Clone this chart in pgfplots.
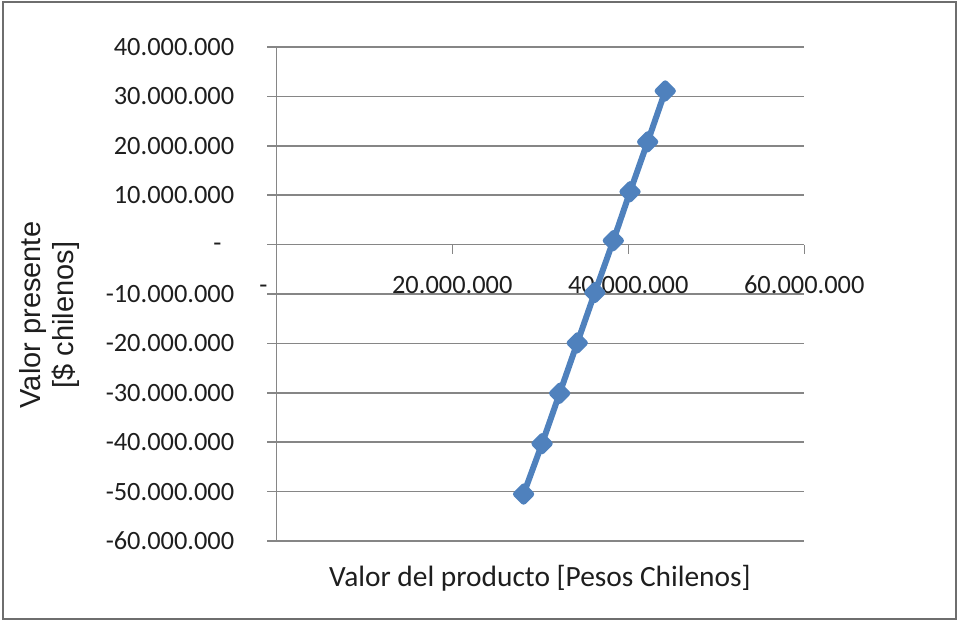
\documentclass[border=0pt]{standalone}
\usepackage{fontspec}
\setmainfont{Carlito}
\newfontfamily\arialfont{Liberation Sans}
\usepackage{pgfplots}
\pgfplotsset{compat=1.18}
\definecolor{xlblue}{RGB}{79,129,189}
\definecolor{gridgray}{RGB}{134,134,134}
\definecolor{framegray}{RGB}{110,110,110}
\definecolor{txt}{RGB}{30,30,30}

\begin{document}
\begin{tikzpicture}
\useasboundingbox (0,0) rectangle (479pt,310.5pt);
\draw[framegray, line width=1pt] (1.25pt,1.25pt) rectangle (477.75pt,309.25pt);
\begin{axis}[
  at={(138.15pt,40pt)}, anchor=south west,
  scale only axis, width=264pt, height=247pt,
  xmin=0, xmax=60000000, ymin=-60000000, ymax=40000000,
  axis x line=middle, axis y line=middle,
  axis line style={-, draw=gridgray, line width=0.75pt},
  hide obscured x ticks=false, hide obscured y ticks=false,
  ymajorgrids, grid style={gridgray, line width=0.75pt},
  xtick={0,20000000,40000000,60000000},
  xticklabels={{-\kern13pt},20.000.000,40.000.000,60.000.000},
  ytick={-60000000,-50000000,-40000000,-30000000,-20000000,-10000000,0,10000000,20000000,30000000,40000000},
  yticklabels={-60.000.000,-50.000.000,-40.000.000,-30.000.000,-20.000.000,-10.000.000,{},10.000.000,20.000.000,30.000.000,40.000.000},
  scaled ticks=false,
  tick align=outside, major tick length=4.5pt,
  tick style={gridgray, line width=0.75pt},
  ticklabel style={font=\fontsize{13.2}{15}\selectfont, text=txt},
  xticklabel style={anchor=base, yshift=-20pt},
  yticklabel style={anchor=east, xshift=-13pt},
  clip=false,
]
\addplot[xlblue, line width=3pt, line join=round,
  mark=square*, mark size=2.7pt, mark options={rotate=45, solid, fill=xlblue}]
  coordinates {
    (28100000,-50500000)
    (30200000,-40300000)
    (32200000,-30100000)
    (34200000,-19900000)
    (36200000,-9700000)
    (38300000,800000)
    (40200000,10700000)
    (42200000,20800000)
    (44200000,31100000)
  };
% zero label of the value axis, accounting style dash
\node[font=\fontsize{13.2}{15}\selectfont, text=txt, xshift=-29.5pt, yshift=-1.5pt]
  at (axis cs:0,0) {-};
\end{axis}
\node[font=\fontsize{14.7}{16}\selectfont, text=txt] at (270pt,21.5pt) {Valor del producto [Pesos Chilenos]};
\node[rotate=90, align=center, text=txt, font=\arialfont\fontsize{14.5}{16.5}\selectfont] at (25pt,153pt) {Valor presente\\{}[\$ chilenos]};
\end{tikzpicture}
\end{document}
